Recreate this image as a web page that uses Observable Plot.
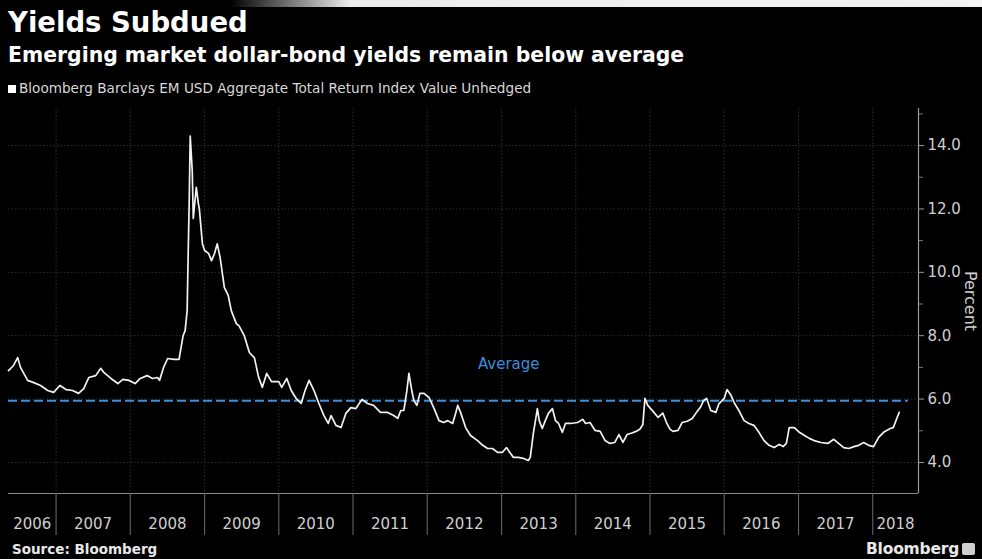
<!DOCTYPE html>
<html>
<head>
<meta charset="utf-8">
<script src="https://cdn.jsdelivr.net/npm/d3@7"></script>
<script src="https://cdn.jsdelivr.net/npm/@observablehq/plot@0.6"></script>
<style>
  html, body { margin: 0; padding: 0; background: #000; }
  #wrap { position: relative; width: 982px; height: 559px; background: #000; overflow: hidden; font-family: "DejaVu Sans", sans-serif; }
  .abs { position: absolute; white-space: nowrap; line-height: 1; }
  #topband { position: absolute; left: 230px; top: 0; width: 752px; height: 7px; background: linear-gradient(to right, rgba(235,235,235,0), #ececec 120px, #f4f4f4); }
  #title { left: 8px; top: 9px; font-size: 27.5px; font-weight: bold; color: #fff; }
  #subtitle { left: 8px; top: 45px; font-size: 20.4px; font-weight: bold; color: #fff; }
  #legend { left: 8px; top: 82px; font-size: 13.6px; color: #d8d8d8; }
  #legend .sw { display: inline-block; width: 8px; height: 8px; background: #fff; margin-right: 3px; vertical-align: 0px; }
  #chart { position: absolute; left: 0; top: 100px; }
  #source { left: 12px; top: 543px; font-size: 13.5px; font-weight: bold; color: #e8e8e8; }
  #brand { left: 866px; top: 542px; font-size: 15.5px; font-weight: bold; color: #e8e8e8; letter-spacing: -0.2px; }
  #brandicon { position: absolute; left: 962px; top: 543px; width: 13px; height: 12px; background: #cfcfcf; border-radius: 2px; }
</style>
</head>
<body>
<div id="wrap">
  <div id="topband"></div>
  <div id="title" class="abs">Yields Subdued</div>
  <div id="subtitle" class="abs">Emerging market dollar-bond yields remain below average</div>
  <div id="legend" class="abs"><span class="sw"></span>Bloomberg Barclays EM USD Aggregate Total Return Index Value Unhedged</div>
  <div id="chart"></div>
  <div id="source" class="abs">Source: Bloomberg</div>
  <div id="brand" class="abs">Bloomberg</div>
  <div id="brandicon"></div>
</div>
<script>
// ---- Data ----
const dates = [
  "2006-05-12","2006-06-06","2006-06-26","2006-07-10","2006-08-14","2006-09-13","2006-10-17","2006-11-21","2006-12-20",
  "2007-01-20","2007-02-19","2007-03-23","2007-04-22","2007-05-17","2007-06-11","2007-07-15","2007-08-09","2007-08-24","2007-09-28","2007-11-01","2007-11-26","2007-12-25",
  "2008-01-25","2008-02-19","2008-03-24","2008-04-19","2008-05-14","2008-05-24","2008-06-13","2008-07-03","2008-08-02","2008-08-28","2008-09-17","2008-09-27","2008-10-07","2008-10-12","2008-10-17","2008-10-22","2008-11-01","2008-11-06","2008-11-11","2008-11-21","2008-12-01","2008-12-06","2008-12-21",
  "2009-01-01","2009-01-20","2009-02-04","2009-02-19","2009-03-04","2009-03-18","2009-04-08","2009-04-27","2009-05-12","2009-06-06","2009-06-20","2009-07-15","2009-08-09","2009-09-03","2009-09-23","2009-10-12","2009-11-02","2009-11-26",
  "2010-01-01","2010-01-15","2010-02-09","2010-03-03","2010-03-27","2010-04-21","2010-05-10","2010-05-30","2010-06-23","2010-07-17","2010-08-11","2010-09-01","2010-09-15","2010-10-09","2010-11-03","2010-11-27","2010-12-21",
  "2011-01-15","2011-02-14","2011-03-13","2011-04-12","2011-05-16","2011-06-20","2011-07-20","2011-08-09","2011-08-24","2011-09-08","2011-09-23","2011-10-03","2011-10-17","2011-10-27","2011-11-11","2011-11-26","2011-12-16",
  "2012-01-10","2012-02-04","2012-02-28","2012-03-22","2012-04-11","2012-05-05","2012-05-20","2012-05-30","2012-06-13","2012-07-08","2012-08-01","2012-09-05","2012-09-30","2012-10-24","2012-11-17","2012-12-12",
  "2013-01-05","2013-01-25","2013-02-14","2013-02-28","2013-03-24","2013-04-17","2013-05-12","2013-05-22","2013-06-06","2013-06-26","2013-07-05","2013-07-20","2013-08-04","2013-08-19","2013-09-08","2013-09-23","2013-10-08","2013-10-27","2013-11-11","2013-12-06",
  "2014-01-10","2014-02-04","2014-02-18","2014-03-12","2014-04-06","2014-05-01","2014-05-25","2014-06-18","2014-07-12","2014-08-01","2014-08-21","2014-09-10","2014-10-04","2014-10-24","2014-11-12","2014-11-27","2014-12-07","2014-12-21",
  "2015-01-15","2015-02-10","2015-03-05","2015-03-25","2015-04-09","2015-04-24","2015-05-19","2015-06-08","2015-07-03","2015-07-28","2015-08-22","2015-09-07","2015-09-22","2015-10-07","2015-10-27","2015-11-21","2015-12-06",
  "2016-01-01","2016-01-15","2016-02-04","2016-02-19","2016-03-13","2016-04-08","2016-05-02","2016-05-26","2016-06-20","2016-07-15","2016-08-09","2016-09-03","2016-09-28","2016-10-17","2016-11-02","2016-11-16","2016-12-11",
  "2017-01-05","2017-01-30","2017-02-23","2017-03-18","2017-04-21","2017-05-25","2017-06-23","2017-07-17","2017-08-11","2017-09-05","2017-09-30","2017-10-24","2017-11-17","2017-12-12",
  "2018-01-05","2018-01-30","2018-02-23","2018-03-28","2018-04-12","2018-05-01","2018-05-11"
];
const yields = [
  6.90,7.06,7.31,7.00,6.59,6.52,6.43,6.27,6.21,
  6.43,6.30,6.27,6.18,6.33,6.68,6.74,6.97,6.84,6.65,6.49,6.62,6.59,
  6.49,6.65,6.74,6.65,6.68,6.59,7.00,7.28,7.25,7.25,8.00,8.16,8.80,10.6,12.2,14.3,13.2,11.7,12.04,12.68,12.17,12.0,10.9,
  10.69,10.6,10.37,10.6,10.9,10.47,9.52,9.27,8.79,8.38,8.3,8.0,7.47,7.30,6.70,6.37,6.81,6.55,
  6.55,6.37,6.65,6.27,6.02,5.86,6.27,6.59,6.27,5.86,5.48,5.23,5.48,5.17,5.10,5.55,5.73,
  5.70,5.99,5.86,5.80,5.58,5.58,5.48,5.39,5.64,5.64,6.27,6.81,6.27,5.96,5.80,6.18,6.18,
  6.05,5.70,5.32,5.26,5.32,5.23,5.55,5.80,5.58,5.10,4.85,4.69,4.54,4.44,4.44,4.32,
  4.32,4.47,4.28,4.16,4.16,4.13,4.06,4.16,4.91,5.70,5.32,5.07,5.32,5.55,5.70,5.32,5.23,4.95,5.23,5.23,
  5.26,5.36,5.23,5.26,5.01,4.98,4.69,4.60,4.63,4.88,4.63,4.88,4.93,4.98,5.05,5.20,6.02,5.80,
  5.62,5.42,5.56,5.23,5.05,4.98,5.01,5.26,5.30,5.39,5.62,5.75,5.96,6.02,5.64,5.58,5.85,
  6.02,6.30,6.11,5.89,5.64,5.32,5.23,5.17,4.95,4.69,4.54,4.47,4.57,4.50,4.60,5.10,5.10,
  4.95,4.85,4.76,4.69,4.63,4.60,4.73,4.60,4.47,4.44,4.50,4.54,4.63,4.54,
  4.50,4.79,4.95,5.07,5.10,5.42,5.58
];
const averageYield = 5.95;
const averageLabel = "Average";
const averageLabelDate = "2013-02-05";
const averageLabelValue = 7.09;
const averageEnd = "2018-06-25";
const xStart = "2006-05-12";
const xEnd = "2018-08-14";
const yDomain = [3.02, 15.17];
const yearStarts = ["2007","2008","2009","2010","2011","2012","2013","2014","2015","2016","2017","2018"];
const yearLabelDates = ["2006-09-06","2007-07-02","2008-07-02","2009-07-02","2010-07-02","2011-07-02","2012-07-02","2013-07-02","2014-07-02","2015-07-02","2016-07-02","2017-07-02","2018-04-23"];
const majorTicks = [4, 6, 8, 10, 12, 14];
const minorTicks = [5, 7, 9, 11, 13, 15];
const yLabel = "Percent";

// ---- Build ----
const parse = s => new Date(s + (s.length === 4 ? "-01-01" : "") + "T00:00:00Z");
const series = dates.map((d, i) => ({date: parse(d), value: yields[i]}));
const blue = "#3b8fdc";
const grid = "#2e2e2e";

const chart = Plot.plot({
  width: 982,
  height: 440,
  marginTop: 8,
  marginBottom: 47,
  marginLeft: 8,
  marginRight: 64,
  style: {background: "transparent", color: "#cfcfcf", fontFamily: "DejaVu Sans, sans-serif", fontSize: "15px"},
  x: {type: "utc", domain: [parse(xStart), parse(xEnd)]},
  y: {domain: yDomain},
  marks: [
    Plot.gridY(majorTicks, {stroke: grid, strokeOpacity: 1, strokeDasharray: "1.5,2"}),
    Plot.gridX(yearStarts.map(parse), {stroke: grid, strokeOpacity: 1, strokeDasharray: "1.5,2"}),
    Plot.ruleY([averageYield], {x1: parse(xStart), x2: parse(averageEnd), stroke: blue, strokeWidth: 2, strokeDasharray: "9,4"}),
    Plot.text([averageLabel], {x: parse(averageLabelDate), y: averageLabelValue, fill: blue, fontSize: 15, textAnchor: "middle"}),
    Plot.line(series, {x: "date", y: "value", stroke: "#f2f2f2", strokeWidth: 1.7, strokeLinejoin: "round"}),
    Plot.ruleY([yDomain[0]], {stroke: "#8a8a8a", strokeWidth: 1.2}),
    Plot.ruleX([parse(xEnd)], {stroke: "#9a9a9a", strokeWidth: 1.2}),
    Plot.axisY(majorTicks, {anchor: "right", tickSize: 5, tickPadding: 4, tickFormat: d3.format(".1f"), stroke: "#9a9a9a", label: null}),
    Plot.axisY(minorTicks, {anchor: "right", tickSize: 4, tickFormat: () => "", stroke: "#777", label: null}),
    Plot.axisX(yearStarts.map(parse), {anchor: "bottom", tickSize: 42, tickFormat: () => "", stroke: "#6e6e6e", label: null}),
    Plot.axisX(yearLabelDates.map(parse), {anchor: "bottom", tickSize: 0, tickPadding: 25, tickFormat: d => String(d.getUTCFullYear()), label: null}),
    Plot.text([yLabel], {frameAnchor: "right", rotate: 90, dx: 52, textAnchor: "middle", fill: "#cfcfcf", fontSize: 16})
  ]
});
document.getElementById("chart").appendChild(chart);
</script>
</body>
</html>
